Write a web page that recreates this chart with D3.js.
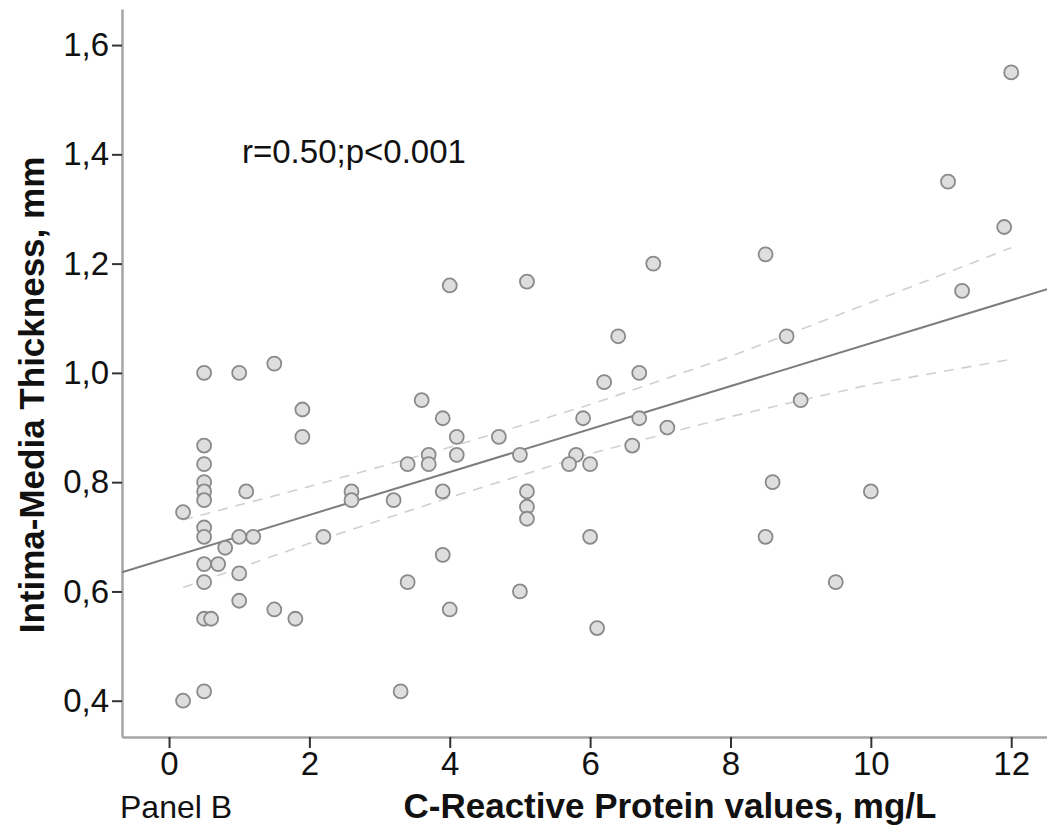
<!DOCTYPE html>
<html lang="en">
<head>
    <meta charset="UTF-8">
    <title>IMT vs CRP</title>
    <script type="text/javascript" src="https://cdn.jsdelivr.net/npm/d3@7"></script>
</head>
<style>
    body{ margin:0; background:#fff; }
    svg text{ font-family: "Liberation Sans", Arial, sans-serif; fill:#111; }
    .axis path.domain{ stroke:#a5a5a5; stroke-width:2.5; }
    .axis line{ stroke:#333; stroke-width:2; }
    .axis text{ font-size:33px; }
</style>
<body>

<script>
//data
    var crpValues = [0.5,1.0,1.5,1.9,1.9,0.5,0.5,0.5,0.5,0.5,1.1,0.2,0.5,0.5,1.0,1.2,2.2,0.8,0.5,0.7,
                     1.0,0.5,1.0,1.5,1.8,0.5,0.6,0.5,0.2,
                     4.0,5.1,3.6,3.9,4.1,4.7,3.7,4.1,3.4,3.7,5.0,2.6,2.6,3.2,3.9,5.1,5.1,5.1,3.9,3.4,5.0,4.0,3.3,
                     6.9,6.4,6.7,6.2,5.9,6.7,7.1,6.6,5.8,5.7,6.0,6.0,6.1,
                     12.0,11.1,11.9,8.5,11.3,8.8,9.0,8.6,10.0,8.5,9.5];
    var imtValues = [1.0,1.0,1.017,0.933,0.883,0.867,0.833,0.8,0.783,0.767,0.783,0.745,0.717,0.7,0.7,0.7,0.7,0.68,0.65,0.65,
                     0.633,0.617,0.583,0.567,0.55,0.55,0.55,0.417,0.4,
                     1.16,1.167,0.95,0.917,0.883,0.883,0.85,0.85,0.833,0.833,0.85,0.783,0.767,0.767,0.783,0.783,0.755,0.733,0.667,0.617,0.6,0.567,0.417,
                     1.2,1.067,1.0,0.983,0.917,0.917,0.9,0.867,0.85,0.833,0.833,0.7,0.533,
                     1.55,1.35,1.267,1.217,1.15,1.067,0.95,0.8,0.783,0.7,0.617];

    var fitX = [-0.67, 12.51];          //fit line ends
    var fitY = [0.635, 1.153];
    var ciX = [0.2, 2, 4, 6, 8, 10, 12];  //confidence band
    var ciUpper = [0.731, 0.792, 0.864, 0.942, 1.030, 1.129, 1.229];
    var ciLower = [0.607, 0.688, 0.772, 0.852, 0.920, 0.979, 1.025];

    var xTicks = [0, 2, 4, 6, 8, 10, 12];
    var yTicks = [0.4, 0.6, 0.8, 1.0, 1.2, 1.4, 1.6];
    var yTickLabels = ["0,4", "0,6", "0,8", "1,0", "1,2", "1,4", "1,6"];

    var width = 1047;
    var height = 826;
    var svg = d3.select("body")
            .append("svg")
            .attr("width", width)
            .attr("height", height);

    var x = d3.scaleLinear().domain([-0.67, 12.51]).range([122, 1047]);
    var y = d3.scaleLinear().domain([0.3336, 1.666]).range([737, 9]);

//axes
    var xAxis = d3.axisBottom(x).tickValues(xTicks).tickSizeInner(11).tickSizeOuter(0).tickPadding(4);
    var yAxis = d3.axisLeft(y).tickValues(yTicks).tickSizeInner(10).tickSizeOuter(0).tickPadding(3)
            .tickFormat(function(d, i){ return yTickLabels[i]; });

    svg.append("g")
            .attr("class", "axis")
            .attr("transform", "translate(0,737)")
            .call(xAxis);
    svg.append("g")
            .attr("class", "axis")
            .attr("transform", "translate(122,0)")
            .call(yAxis);

//confidence band (dashed)
    var line = d3.line()
            .x(function(d){ return x(d[0]); })
            .y(function(d){ return y(d[1]); });

    [ciUpper, ciLower].forEach(function(vals){
        svg.append("path")
                .datum(ciX.map(function(v, i){ return [v, vals[i]]; }))
                .attr("d", line)
                .attr("fill", "none")
                .attr("stroke", "#d0d0d0")
                .attr("stroke-width", 1.6)
                .attr("stroke-dasharray", "10,8");
    });

//fit line
    svg.append("path")
            .datum(fitX.map(function(v, i){ return [v, fitY[i]]; }))
            .attr("d", line)
            .attr("fill", "none")
            .attr("stroke", "#7d7d7d")
            .attr("stroke-width", 2);

//points
    svg.selectAll("circle")
            .data(crpValues)
            .enter()
            .append("circle")
            .attr("cx", function(d){ return x(d); })
            .attr("cy", function(d, i){ return y(imtValues[i]); })
            .attr("r", 7)
            .attr("fill", "#dedede")
            .attr("stroke", "#8a8a8a")
            .attr("stroke-width", 1.8);

//texts
    svg.append("text")
            .attr("x", 242)
            .attr("y", 163)
            .style("font-size", "33px")
            .text("r=0.50;p<0.001");

    svg.append("text")
            .attr("x", 120)
            .attr("y", 818)
            .style("font-size", "32px")
            .text("Panel B");

    svg.append("text")
            .attr("x", 670)
            .attr("y", 818)
            .attr("text-anchor", "middle")
            .style("font-size", "35px")
            .style("font-weight", "bold")
            .text("C-Reactive Protein values, mg/L");

    svg.append("text")
            .attr("transform", "translate(44,395) rotate(-90)")
            .attr("text-anchor", "middle")
            .style("font-size", "35px")
            .style("font-weight", "bold")
            .text("Intima-Media Thickness, mm");
</script>
</body>
</html>
